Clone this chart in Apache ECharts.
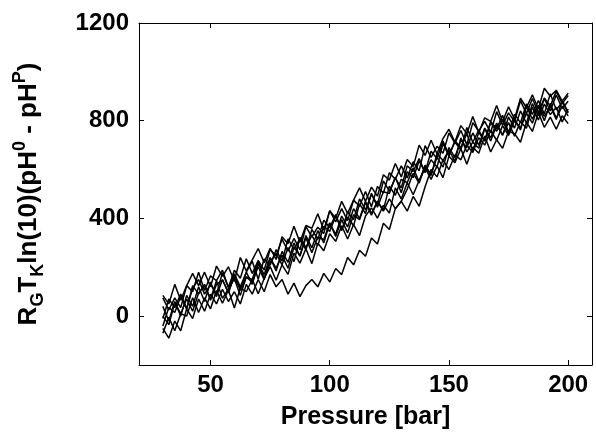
<!DOCTYPE html>
<html>
<head>
<meta charset="utf-8">
<script src="https://cdn.jsdelivr.net/npm/echarts@6/dist/echarts.min.js"></script>
<style>html,body{margin:0;padding:0;background:#fff}#c{width:596px;height:439px}</style>
</head>
<body>
<div id="c"></div>
<script>
const pressure = [30,32.5,35,37.5,40,42.5,45,47.5,50,52.5,55,57.5,60,62.5,65,67.5,70,72.5,75,77.5,80,82.5,85,87.5,90,92.5,95,97.5,100,102.5,105,107.5,110,112.5,115,117.5,120,122.5,125,127.5,130,132.5,135,137.5,140,142.5,145,147.5,150,152.5,155,157.5,160,162.5,165,167.5,170,172.5,175,177.5,180,182.5,185,187.5,190,192.5,195,197.5,200];

const traceA = [85,50,130,65,125,175,125,180,120,205, 163,202,143,240,185,230,277,219,278,232, 325,296,368,302,371,360,419,353,432,401, 470,421,475,525,470,528,491,579,557,625, 570,641,612,700,658,720,665,727,765,713, 780,747,817,752,812,797,862,797,857,807, 892,854,906,848,933,900,925,880,913];
const traceB = [-10,70,35,90,30,115,150,90,130,90, 178,117,173,120,180,225,152,234,208,272, 225,316,273,317,271,355,314,393,362,416, 350,426,395,480,435,498,456,554,512,565, 525,616,592,645,588,675,645,717,660,713, 680,772,712,762,717,797,767,822,752,827, 792,869,826,883,828,910,845,875,833];
const traceC = [0,-35,55,10,70,20,95,125,70,145, 73,112,153,85,160,140,202,149,238,197, 250,196,283,247,321,260,324,313,382,326, 395,341,415,395,465,413,471,434,532,495, 560,546,607,550,618,575,665,637,680,633, 730,672,712,687,767,717,782,742,792,737, 797,769,856,803,868,825,855,795,848];
const traceD = [-70,-5,-60,10,0,75,15,75,30,105, 53,107,33,115,100,150,92,154,203,147, 210,171,258,217,276,215,299,268,337,306, 370,316,375,330,410,443,401,454,422,525, 480,546,497,555,608,560,615,567,655,628, 685,622,692,667,737,672,722,687,757,747, 712,794,756,833,773,815,765,820,788];
const traceE = [-50,-90,-20,-60,30,-10,70,20,90,50, 110,60,100,50,130,90,150,100,170,120, 150,90,135,80,125,150,120,175,140,195, 170,240,210,270,245,320,295,380,355,440, 470,520,585,545,615,580,650,610,690,650, 720,690,750,700,770,730,790,740,815,770, 840,790,870,820,890,840,905,850,880];
const traceF = [40,-20,60,0,85,40,120,60,140,80, 150,95,165,110,180,130,215,170,240,185, 265,220,300,245,330,280,350,300,380,335, 410,365,440,400,470,420,470,430,480,440, 470,430,490,450,530,600,570,640,600,660, 640,700,670,730,700,760,720,780,740,800, 770,830,790,860,800,870,810,860,820];
const traceG = [75,25,75,35,125,100,180,105,165,145, 188,117,188,155,235,175,227,189,273,247, 315,266,318,272,366,325,364,338,432,386, 440,391,475,450,510,448,531,504,587,560, 615,566,632,595,698,650,695,667,750,708, 760,702,792,757,797,752,837,782,832,797, 882,829,891,833,893,860,920,870,903];
const traceH = [-40,35,15,80,30,125,90,130,65,130, 148,97,168,105,160,150,227,154,218,257, 210,281,223,322,281,330,289,368,347,411, 355,406,370,460,420,503,446,509,502,570, 505,591,567,635,588,640,610,707,655,718, 690,747,677,752,717,792,757,802,747,807, 762,859,806,863,818,860,805,885,833];

const xTicks = [50, 100, 150, 200];
const yTicks = [0, 400, 800, 1200];
const xTitle = 'Pressure [bar]';

const traces = [traceA, traceB, traceC, traceD, traceE, traceF, traceG, traceH];

const FONT = '"Liberation Sans", Arial, sans-serif';
const chart = echarts.init(document.getElementById('c'), null, {renderer: 'canvas'});

const tickStyle = {show: true, inside: true, length: 5, lineStyle: {color: '#000', width: 1}};
const lineStyleAxis = {show: true, onZero: false, lineStyle: {color: '#000', width: 1}};

chart.setOption({
  animation: false,
  backgroundColor: '#fff',
  grid: {left: 139, right: 4, top: 23, bottom: 74, containLabel: false},
  xAxis: [{
    type: 'value', min: 20, max: 210, position: 'bottom',
    axisLine: lineStyleAxis,
    axisTick: Object.assign({}, tickStyle, {customValues: xTicks}),
    axisLabel: {customValues: xTicks, formatter: v => String(v), color: '#000', fontFamily: FONT, fontWeight: 'bold', fontSize: 24, margin: 8},
    splitLine: {show: false},
    name: xTitle, nameLocation: 'middle', nameGap: 40,
    nameTextStyle: {color: '#000', fontFamily: FONT, fontWeight: 'bold', fontSize: 25}
  }, {
    type: 'value', min: 20, max: 210, position: 'top',
    axisLine: lineStyleAxis,
    axisTick: Object.assign({}, tickStyle, {customValues: xTicks}),
    axisLabel: {show: false}, splitLine: {show: false}
  }],
  yAxis: [{
    type: 'value', min: -200, max: 1200, position: 'left',
    axisLine: lineStyleAxis,
    axisTick: Object.assign({}, tickStyle, {customValues: yTicks}),
    axisLabel: {customValues: yTicks, formatter: v => String(v), color: '#000', fontFamily: FONT, fontWeight: 'bold', fontSize: 24, margin: 10},
    splitLine: {show: false},
    name: '{n|R}{s|G}{n|T}{s|K}{n|ln(10)(pH}{p|0}{n| - pH}{p|P}{n|)}',
    nameLocation: 'middle', nameGap: 92,
    nameTextStyle: {
      color: '#000', fontFamily: FONT, fontWeight: 'bold', fontSize: 26,
      rich: {
        n: {fontFamily: FONT, fontWeight: 'bold', fontSize: 26, lineHeight: 36, verticalAlign: 'middle', color: '#000'},
        s: {fontFamily: FONT, fontWeight: 'bold', fontSize: 18, lineHeight: 17, verticalAlign: 'bottom', color: '#000'},
        p: {fontFamily: FONT, fontWeight: 'bold', fontSize: 18, lineHeight: 17, verticalAlign: 'top', color: '#000'}
      }
    }
  }, {
    type: 'value', min: -200, max: 1200, position: 'right',
    axisLine: lineStyleAxis,
    axisTick: Object.assign({}, tickStyle, {customValues: yTicks}),
    axisLabel: {show: false}, splitLine: {show: false}
  }],
  series: traces.map(t => ({
    type: 'line',
    data: pressure.map((p, i) => [p, t[i]]),
    symbol: 'none',
    lineStyle: {color: '#000', width: 1.5},
    silent: true
  }))
});
</script>
</body>
</html>
